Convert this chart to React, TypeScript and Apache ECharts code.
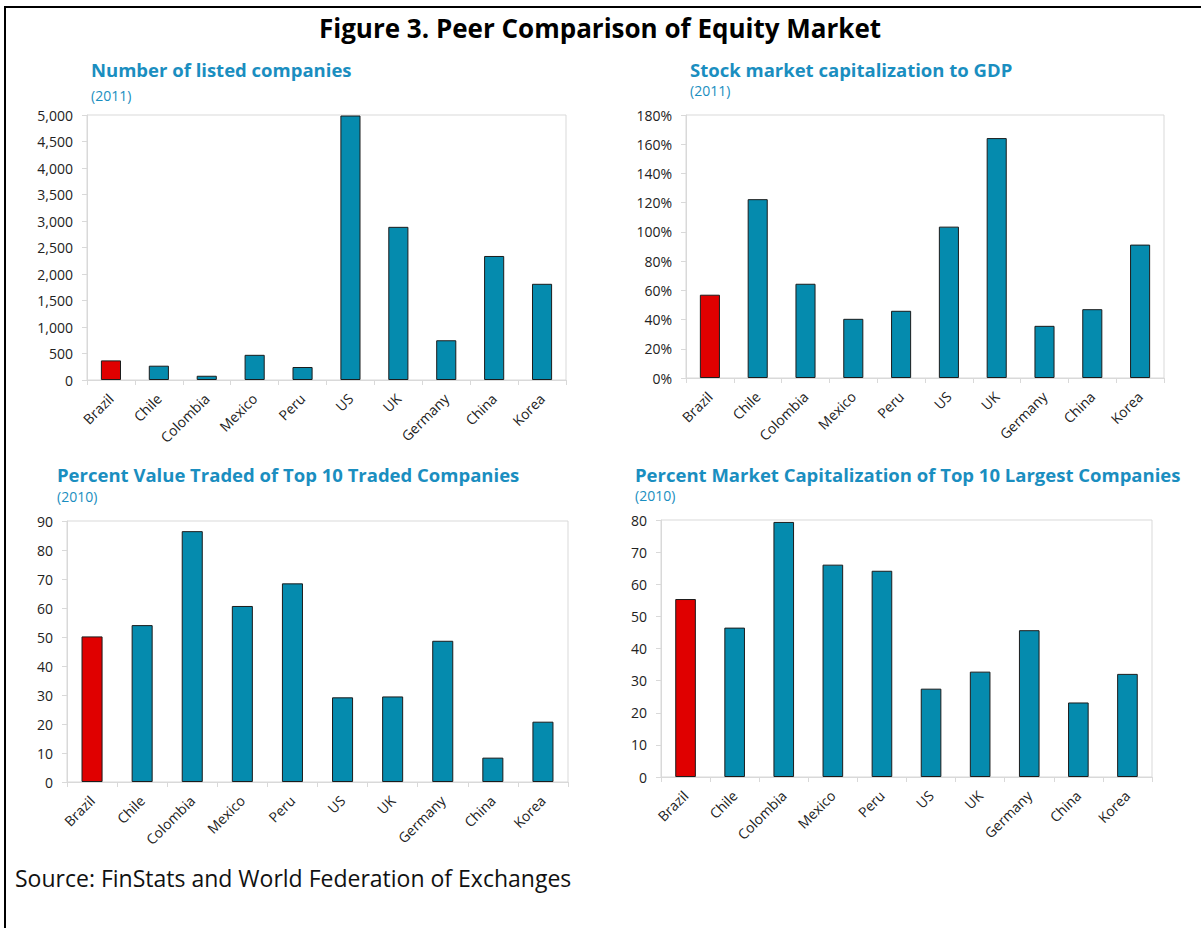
import React, { useEffect, useRef } from "react";
import * as echarts from "echarts";

const categories = ["Brazil", "Chile", "Colombia", "Mexico", "Peru", "US", "UK", "Germany", "China", "Korea"];
const listedCompanies = [370, 270, 80, 475, 245, 4990, 2890, 750, 2340, 1815];
const marketCapToGdp = [57, 122.4, 64.5, 40.5, 46, 103.6, 164.2, 35.7, 47.1, 91.3];
const valueTradedTop10 = [50.2, 54.1, 86.5, 60.7, 68.5, 29.2, 29.5, 48.7, 8.4, 20.8];
const marketCapTop10 = [55.4, 46.5, 79.4, 66.1, 64.2, 27.5, 32.8, 45.7, 23.2, 32.1];

const chartTitles = [
  "Number of listed companies",
  "Stock market capitalization to GDP",
  "Percent Value Traded of Top 10 Traded Companies",
  "Percent Market Capitalization of Top 10 Largest Companies",
];
const chartYears = ["(2011)", "(2011)", "(2010)", "(2010)"];
const mainTitle = "Figure 3. Peer Comparison of Equity Market";
const sourceText = "Source: FinStats and World Federation of Exchanges";

const FONT = "'Open Sans', 'Noto Sans', sans-serif";
const TEAL = "#058bae";
const RED = "#e00000";
const TITLE_BLUE = "#1a8ec0";
const AXIS_GRAY = "#d9d9d9";
const TEXT = "#222";

export default function App() {
  const ref = useRef<HTMLDivElement>(null);

  useEffect(() => {
    document.body.style.margin = "0";
    if (!ref.current) return;
    const chart = echarts.init(ref.current, undefined, { renderer: "svg" });

    const grids = [
      { left: 87, top: 115, width: 479, height: 265 },
      { left: 686, top: 115, width: 478, height: 263 },
      { left: 67, top: 521, width: 501, height: 261 },
      { left: 661, top: 520, width: 491, height: 257 },
    ];
    const titlePos = [
      { x: 91, y: 69, yy: 95 },
      { x: 690, y: 69, yy: 90 },
      { x: 57, y: 474, yy: 496 },
      { x: 635, y: 474, yy: 495 },
    ];
    const yConf = [
      { max: 5000, interval: 500, fmt: (v: number) => v.toLocaleString("en-US") },
      { max: 180, interval: 20, fmt: (v: number) => v + "%" },
      { max: 90, interval: 10, fmt: (v: number) => String(v) },
      { max: 80, interval: 10, fmt: (v: number) => String(v) },
    ];
    const datasets = [listedCompanies, marketCapToGdp, valueTradedTop10, marketCapTop10];

    const graphic: any[] = [
      { type: "line", shape: { x1: 4, y1: 7, x2: 1201, y2: 7 }, style: { stroke: "#000", lineWidth: 2 } },
      { type: "line", shape: { x1: 5, y1: 6, x2: 5, y2: 928 }, style: { stroke: "#000", lineWidth: 2 } },
      {
        type: "text",
        x: 600,
        y: 28,
        style: {
          text: mainTitle,
          font: `bold 26px ${FONT}`,
          fill: "#000",
          align: "center",
          verticalAlign: "middle",
          textAlign: "center",
          textVerticalAlign: "middle",
        },
      },
      {
        type: "text",
        x: 15,
        y: 878,
        style: {
          text: sourceText,
          font: `23px ${FONT}`,
          fill: "#111",
          align: "left",
          verticalAlign: "middle",
          textAlign: "left",
          textVerticalAlign: "middle",
        },
      },
    ];
    titlePos.forEach((p, i) => {
      graphic.push({
        type: "text",
        x: p.x,
        y: p.y,
        style: {
          text: chartTitles[i],
          font: `bold 18.5px ${FONT}`,
          fill: TITLE_BLUE,
          align: "left",
          verticalAlign: "middle",
          textAlign: "left",
          textVerticalAlign: "middle",
        },
      });
      graphic.push({
        type: "text",
        x: p.x,
        y: p.yy,
        style: {
          text: chartYears[i],
          font: `14px ${FONT}`,
          fill: TITLE_BLUE,
          align: "left",
          verticalAlign: "middle",
          textAlign: "left",
          textVerticalAlign: "middle",
        },
      });
    });

    const option: any = {
      animation: false,
      backgroundColor: "#fff",
      grid: grids.map((g) => ({
        ...g,
        show: true,
        borderColor: AXIS_GRAY,
        borderWidth: 1,
        backgroundColor: "transparent",
        containLabel: false,
        outerBoundsMode: "none",
      })),
      xAxis: grids.map((_, i) => ({
        type: "category",
        gridIndex: i,
        data: categories,
        axisLine: { show: true, lineStyle: { color: AXIS_GRAY, width: 1 } },
        axisTick: { show: true, length: 5, lineStyle: { color: AXIS_GRAY } },
        axisLabel: {
          rotate: 45,
          margin: 16,
          fontSize: 14,
          fontFamily: FONT,
          color: TEXT,
          interval: 0,
        },
        splitLine: { show: false },
      })),
      yAxis: grids.map((_, i) => ({
        type: "value",
        gridIndex: i,
        min: 0,
        max: yConf[i].max,
        interval: yConf[i].interval,
        axisLine: { show: true, lineStyle: { color: AXIS_GRAY, width: 1 } },
        axisTick: { show: true, length: 5, lineStyle: { color: AXIS_GRAY } },
        axisLabel: {
          margin: 14,
          fontSize: 14,
          fontFamily: FONT,
          color: TEXT,
          formatter: yConf[i].fmt,
        },
        splitLine: { show: false },
      })),
      series: datasets.map((vals, i) => ({
        type: "bar",
        xAxisIndex: i,
        yAxisIndex: i,
        barWidth: "42%",
        data: vals.map((v, j) => ({
          value: v,
          itemStyle: { color: j === 0 ? RED : TEAL },
        })),
        itemStyle: { borderColor: "#1c1c1c", borderWidth: 1 },
      })),
      graphic,
    };

    chart.setOption(option);
    return () => chart.dispose();
  }, []);

  return <div ref={ref} style={{ width: 1201, height: 928 }} />;
}
